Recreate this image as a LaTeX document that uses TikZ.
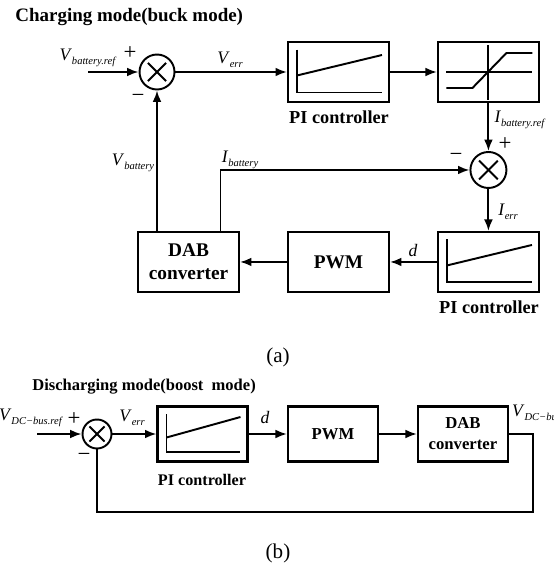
\documentclass[tikz,border=0pt]{standalone}
\usepackage{fontspec}
\setmainfont{Liberation Serif}
\usetikzlibrary{positioning, arrows.meta}

\newcommand{\sgl}[2]{\textit{#1}\raisebox{-0.45ex}{\fontsize{6}{7}\selectfont\textit{#2}}}

\begin{document}
\begin{tikzpicture}[x=0.02cm, y=-0.02cm,
    box/.style={draw, rectangle, line width=1.2pt, minimum width=2.02cm, minimum height=1.2cm, inner sep=0pt, align=center, font=\fontsize{11}{13}\selectfont\bfseries},
    small/.style={minimum width=1.8cm, minimum height=1.1cm, font=\fontsize{9.5}{12}\selectfont\bfseries},
    pibox/.style={box, path picture={
        \draw[line width=1.1pt] ([shift={(0.18cm,-0.15cm)}]path picture bounding box.north west) |- ([shift={(-0.14cm,0.19cm)}]path picture bounding box.south east);
        \draw[line width=1.1pt] ([shift={(0.18cm,-0.07cm)}]path picture bounding box.west) -- ([shift={(-0.14cm,0.34cm)}]path picture bounding box.east);}},
    sum/.style={draw, circle, line width=1.1pt, minimum size=#1, inner sep=0pt, path picture={
        \draw[line width=1.1pt] ([shift={({-0.26*#1},{-0.26*#1})}]path picture bounding box.center) -- ([shift={({0.26*#1},{0.26*#1})}]path picture bounding box.center);
        \draw[line width=1.1pt] ([shift={({-0.26*#1},{0.26*#1})}]path picture bounding box.center) -- ([shift={({0.26*#1},{-0.26*#1})}]path picture bounding box.center);}},
    sum/.default=0.7cm,
    arrow/.style={->, >={Latex[length=6.5pt, width=5pt]}, line width=1.1pt},
    line/.style={line width=1.1pt},
    lab/.style={inner sep=1pt, font=\fontsize{10}{12}\selectfont},
    sign/.style={inner sep=0pt, font=\fontsize{13}{13}\selectfont},
    plabel/.style={inner sep=0pt, font=\fontsize{10.4}{12}\selectfont\bfseries}
]
    \useasboundingbox (0,0) rectangle (554,568);

    % (a) charging mode
    \node (tita) [anchor=west, inner sep=0pt, font=\fontsize{10.8}{13}\selectfont\bfseries] at (15,17) {Charging mode(buck mode)};

    \node (sum1) [sum] at (157,72) {};
    \node (pi1) [pibox, right of=sum1, node distance=3.63cm] {};
    \node (sat) [box, right of=pi1, node distance=3cm] {};
    \node (sum2) [sum=0.72cm, below of=sat, node distance=1.96cm] {};
    \node (pi2) [pibox, below of=sum2, node distance=1.84cm] {};
    \node (pwm1) [box, left of=pi2, node distance=3cm] {PWM};
    \node (dab1) [box, left of=pwm1, node distance=3cm] {DAB\\converter};

    % saturation curve
    \begin{scope}[shift={(sat.center)}, line width=1.1pt]
        \draw (-42,0) -- (44,0);
        \draw (0,-27) -- (0,28);
        \draw (-42,16) -- (-16,16) -- (18,-19) -- (44,-19);
    \end{scope}

    \coordinate (in1) at (88,72);
    \coordinate (ib) at ([xshift=0.64cm]dab1.north);

    \draw [arrow] (in1) -- (sum1);
    \draw [arrow] (sum1) -- (pi1);
    \draw [arrow] (pi1) -- (sat);
    \draw [arrow] (sat) -- (sum2);
    \draw [arrow] (sum2) -- (pi2);
    \draw [arrow] (pi2) -- (pwm1);
    \draw [arrow] (pwm1) -- (dab1);
    \draw [arrow] (sum1 |- dab1.north) -- (sum1);
    \draw [arrow] (ib) |- (sum2);

    \node (lvref) [lab] at (88,58) {\sgl{V}{battery.ref}};
    \node (lp1) [sign] at (130,53) {+};
    \node (lm1) [sign] at (138,98) {−};
    \node (lverr) [lab] at (230,60) {\sgl{V}{err}};
    \node (lvbat) [lab] at (133,163) {\sgl{V}{battery}};
    \node (libat) [lab] at (240,160) {\sgl{I}{battery}};
    \node (libref) [lab] at (520,120) {\sgl{I}{battery.ref}};
    \node (lp2) [sign] at (505,144) {+};
    \node (lm2) [sign] at (456,157) {−};
    \node (lierr) [lab] at (508,212) {\sgl{I}{err}};
    \node (ld1) [lab] at (413,250) {\textit{d}};
    \node (lpi1) [plabel] at (339,117) {PI controller};
    \node (lpi2) [plabel] at (489,307) {PI controller};
    \node (capa) [font=\fontsize{12}{14}\selectfont] at (278,357) {(a)};

    % (b) discharging mode
    \node (titb) [anchor=west, inner sep=0pt, font=\fontsize{9.4}{12}\selectfont\bfseries] at (32,387) {Discharging mode(boost~ mode)};

    \node (sum3) [sum=0.58cm] at (97,434) {};
    \node (pi3) [pibox, small, right of=sum3, node distance=2.11cm] {};
    \node (pwm2) [box, small, right of=pi3, node distance=2.61cm] {PWM};
    \node (dab2) [box, small, right of=pwm2, node distance=2.6cm] {DAB\\converter};

    \coordinate (in3) at (37,434);
    \coordinate (fb) at (533,512);

    \draw [arrow] (in3) -- (sum3);
    \draw [arrow] (sum3) -- (pi3);
    \draw [arrow] (pi3) -- (pwm2);
    \draw [arrow] (pwm2) -- (dab2);
    \draw [line] (dab2) -| (fb) -| (sum3);

    \node (lvdcref) [lab] at (31,418) {\sgl{V}{DC−bus.ref}};
    \node (lp3) [sign] at (74,419) {+};
    \node (lm3) [sign] at (84,457) {−};
    \node (lverr2) [lab] at (132,418) {\sgl{V}{err}};
    \node (ld2) [lab] at (265,417) {\textit{d}};
    \node (lvdc) [lab, anchor=west] at (510,413) {\sgl{V}{DC−bus}};
    \node (lpi3) [plabel, font=\fontsize{9.2}{11}\selectfont\bfseries] at (202,480) {PI controller};
    \node (capb) [font=\fontsize{12}{14}\selectfont] at (278,553) {(b)};
\end{tikzpicture}
\end{document}
